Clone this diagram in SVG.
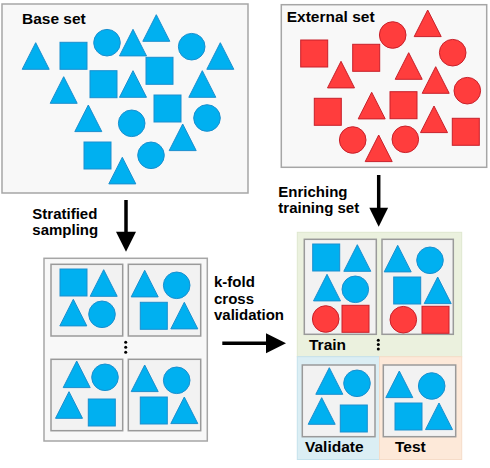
<svg xmlns="http://www.w3.org/2000/svg" xmlns:xlink="http://www.w3.org/1999/xlink" width="490" height="468" viewBox="0 0 490 468">
<style>
.b{fill:#00b0f0;stroke:#1a8fcf;stroke-width:1}
.r{fill:#ff3d3d;stroke:#c8202a;stroke-width:1}
.set{fill:#f8f8f8;stroke:#a6a6a6;stroke-width:1.5}
.fold{fill:#f2f2f2;stroke:#9a9a9a;stroke-width:1.5}
.lbl{font-family:"Liberation Sans",Arial,sans-serif;font-weight:bold;font-size:15px;fill:#000}
.arr{stroke:#000;stroke-width:3.5;fill:none}
.head{fill:#000}
</style>
<defs>
<polygon id="t" points="13.5,0 27,26.6 0,26.6"/>
<rect id="s" width="27" height="27"/>
<circle id="c" cx="13.5" cy="13.5" r="13.3"/>
</defs>

<g id="base-set">
<rect class="set" x="2" y="4" width="246" height="189"/>
<text class="lbl" x="22" y="23.5" style="font-size:15.5px">Base set</text>
<use href="#t" class="b" x="22.2" y="42.7"/>
<use href="#t" class="b" x="119.5" y="29.3"/>
<use href="#t" class="b" x="142.8" y="14.7"/>
<use href="#t" class="b" x="206.8" y="42.7"/>
<use href="#t" class="b" x="50.2" y="76.7"/>
<use href="#t" class="b" x="119.5" y="70.7"/>
<use href="#t" class="b" x="188.8" y="70.7"/>
<use href="#t" class="b" x="74.8" y="105"/>
<use href="#t" class="b" x="169.2" y="124"/>
<use href="#t" class="b" x="108.8" y="157.3"/>
<use href="#s" class="b" x="60" y="42.3"/>
<use href="#s" class="b" x="90" y="70.7"/>
<use href="#s" class="b" x="146" y="57.3"/>
<use href="#s" class="b" x="154" y="95"/>
<use href="#s" class="b" x="84" y="142"/>
<use href="#c" class="b" x="93.5" y="29.2"/>
<use href="#c" class="b" x="178.2" y="33.2"/>
<use href="#c" class="b" x="118.2" y="109.8"/>
<use href="#c" class="b" x="193.5" y="104.5"/>
<use href="#c" class="b" x="137.5" y="141.8"/>
</g>

<g id="external-set">
<rect class="set" x="281.3" y="4.7" width="205.4" height="162.6"/>
<text class="lbl" x="286.7" y="22" style="font-size:15.5px">External set</text>
<use href="#c" class="r" x="379.2" y="21.5"/>
<use href="#c" class="r" x="439.2" y="39.2"/>
<use href="#c" class="r" x="453.8" y="77.2"/>
<use href="#c" class="r" x="339.2" y="126.5"/>
<use href="#c" class="r" x="391.8" y="125.8"/>
<use href="#t" class="r" x="414.2" y="10"/>
<use href="#t" class="r" x="327.5" y="61.3"/>
<use href="#t" class="r" x="395.2" y="52.7"/>
<use href="#t" class="r" x="422.2" y="66.7"/>
<use href="#t" class="r" x="358.2" y="92.3"/>
<use href="#t" class="r" x="420.5" y="106"/>
<use href="#t" class="r" x="365.2" y="135"/>
<use href="#s" class="r" x="300.7" y="40"/>
<use href="#s" class="r" x="352.7" y="44.3"/>
<use href="#s" class="r" x="314.3" y="98.3"/>
<use href="#s" class="r" x="390" y="91.7"/>
<use href="#s" class="r" x="452.3" y="118.3"/>
</g>

<g id="folds">
<rect class="set" x="44" y="258.3" width="163.3" height="182.7"/>
<rect class="fold" x="51" y="264.3" width="71.7" height="71.7"/>
<use href="#s" class="b" x="60" y="269"/>
<use href="#t" class="b" x="90.2" y="269.7"/>
<use href="#t" class="b" x="59.8" y="299.3"/>
<use href="#c" class="b" x="88.5" y="300.8"/>
<rect class="fold" x="128.3" y="264.3" width="72.4" height="71.7"/>
<use href="#t" class="b" x="131.2" y="270.3"/>
<use href="#c" class="b" x="163.2" y="271.8"/>
<use href="#s" class="b" x="140.3" y="302.3"/>
<use href="#t" class="b" x="170.8" y="302.3"/>
<circle cx="125.7" cy="342.3" r="1.5" fill="#000"/>
<circle cx="125.7" cy="347.3" r="1.5" fill="#000"/>
<circle cx="125.7" cy="352.3" r="1.5" fill="#000"/>
<rect class="fold" x="51" y="359.3" width="71.7" height="71.4"/>
<use href="#t" class="b" x="63.2" y="361"/>
<use href="#c" class="b" x="91.5" y="363.8"/>
<use href="#t" class="b" x="55.5" y="391.7"/>
<use href="#s" class="b" x="88.3" y="399"/>
<rect class="fold" x="128.3" y="359.3" width="72.4" height="71.4"/>
<use href="#t" class="b" x="131.2" y="365"/>
<use href="#c" class="b" x="163.2" y="366.8"/>
<use href="#s" class="b" x="140.3" y="397"/>
<use href="#t" class="b" x="170.8" y="397"/>
</g>

<g id="train">
<rect x="297.3" y="232.3" width="164.4" height="124.4" fill="#ebf1de" stroke="#dfe8cf" stroke-width="1"/>
<rect class="fold" x="304.3" y="239.3" width="72" height="95"/>
<use href="#s" class="b" x="312.7" y="244"/>
<use href="#t" class="b" x="343.8" y="244.7"/>
<use href="#t" class="b" x="313.5" y="274.3"/>
<use href="#c" class="b" x="341.8" y="275.8"/>
<use href="#c" class="r" x="312.2" y="305.5"/>
<use href="#s" class="r" x="342" y="305.3"/>
<rect class="fold" x="382" y="239.3" width="71.3" height="95"/>
<use href="#t" class="b" x="384.2" y="245.3"/>
<use href="#c" class="b" x="416.5" y="246.8"/>
<use href="#s" class="b" x="393.7" y="277"/>
<use href="#t" class="b" x="424.2" y="277"/>
<use href="#c" class="r" x="389.8" y="306.2"/>
<use href="#s" class="r" x="422" y="306.3"/>
<text class="lbl" x="309" y="350" style="font-size:15.5px">Train</text>
<circle cx="378.3" cy="340.3" r="1.5" fill="#000"/>
<circle cx="378.3" cy="344.6" r="1.5" fill="#000"/>
<circle cx="378.3" cy="349" r="1.5" fill="#000"/>
</g>

<g id="validate">
<rect x="297.3" y="356.7" width="82.2" height="102.8" fill="#dbeef4" stroke="#c5e2ec" stroke-width="1"/>
<rect class="fold" x="302.3" y="365" width="72.7" height="71.7"/>
<use href="#t" class="b" x="315.8" y="367.7"/>
<use href="#c" class="b" x="343.5" y="369.8"/>
<use href="#t" class="b" x="308.2" y="397.7"/>
<use href="#s" class="b" x="340.3" y="405"/>
<text class="lbl" x="305" y="452.3" style="font-size:15.5px">Validate</text>
</g>

<g id="test">
<rect x="379.5" y="356.7" width="82.2" height="102.8" fill="#fde9d9" stroke="#f6dcc8" stroke-width="1"/>
<rect class="fold" x="383.3" y="365" width="72.4" height="71.7"/>
<use href="#t" class="b" x="385.8" y="371"/>
<use href="#c" class="b" x="418.2" y="372.5"/>
<use href="#s" class="b" x="395" y="403"/>
<use href="#t" class="b" x="425.5" y="403"/>
<text class="lbl" x="395" y="452.3" style="font-size:15.5px">Test</text>
</g>

<g id="connectors">
<line class="arr" x1="126" y1="200" x2="126" y2="233"/>
<polygon class="head" points="116,231.7 136,231.7 126,251.7"/>
<text class="lbl" x="32.3" y="219">Stratified</text>
<text class="lbl" x="32.3" y="235">sampling</text>
<line class="arr" x1="378.7" y1="175" x2="378.7" y2="209"/>
<polygon class="head" points="369.3,207.7 388.1,207.7 378.7,226.7"/>
<text class="lbl" x="278.3" y="197">Enriching</text>
<text class="lbl" x="278.3" y="213">training set</text>
<line class="arr" x1="222.3" y1="343.3" x2="267" y2="343.3"/>
<polygon class="head" points="266,333.3 286,343.3 266,353.3"/>
<text class="lbl" x="214" y="287.3">k-fold</text>
<text class="lbl" x="214" y="304">cross</text>
<text class="lbl" x="214" y="320.3">validation</text>
</g>
</svg>
